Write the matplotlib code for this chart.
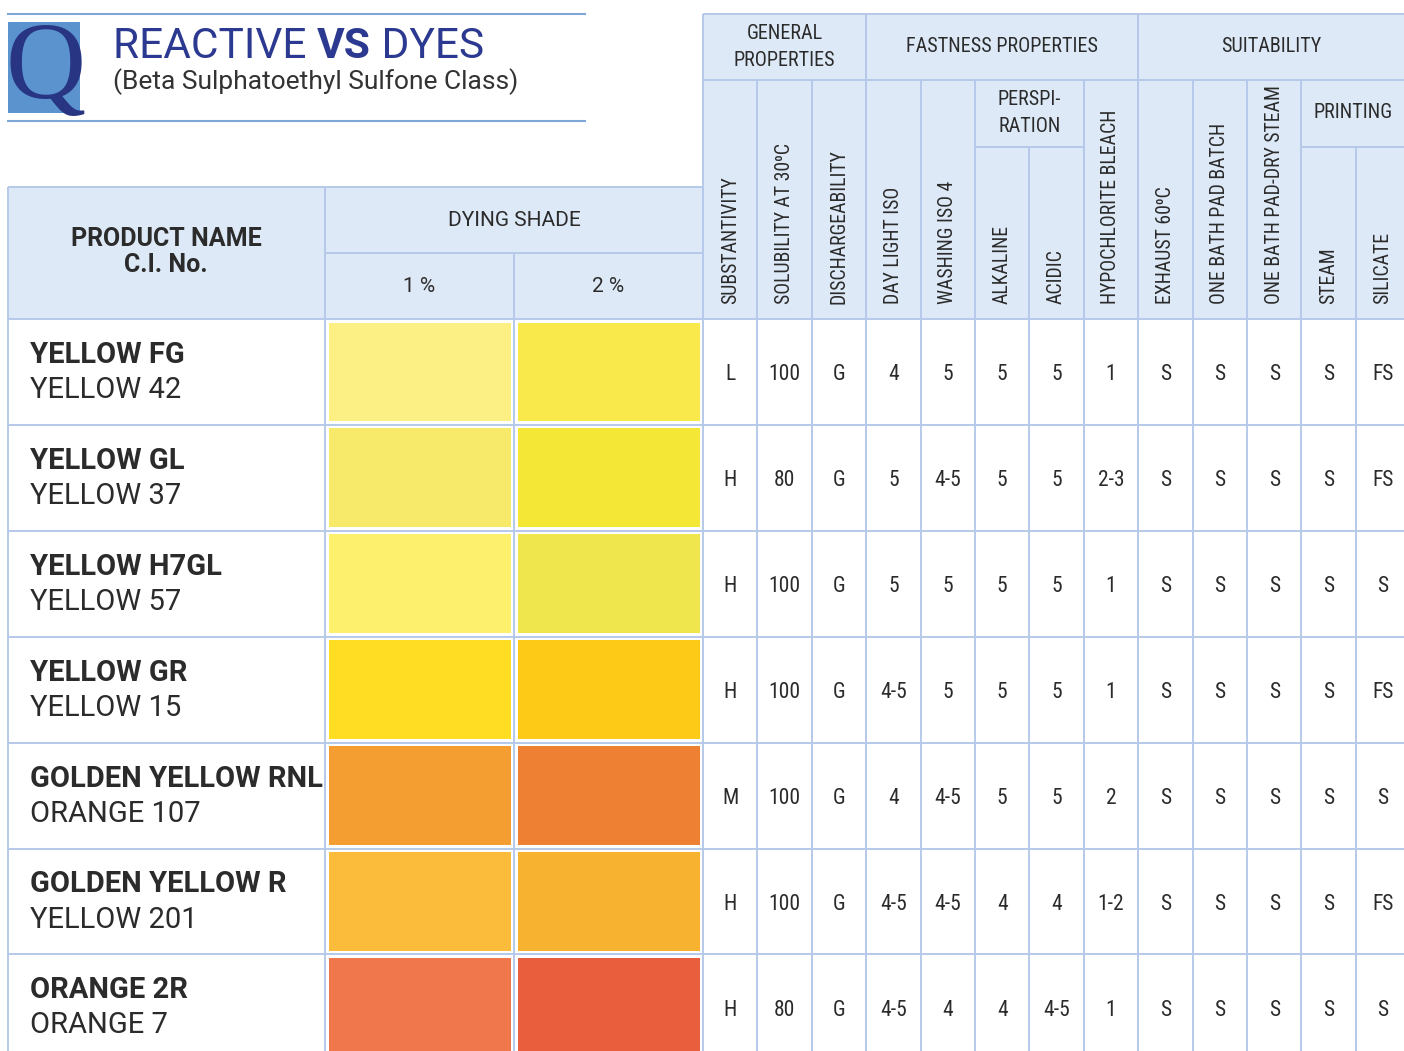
import matplotlib
matplotlib.use("Agg")
import matplotlib.pyplot as plt
from matplotlib.patches import Rectangle

# ---------------- data ----------------
products = ["YELLOW FG", "YELLOW GL", "YELLOW H7GL", "YELLOW GR",
            "GOLDEN YELLOW RNL", "GOLDEN YELLOW R", "ORANGE 2R"]
ci_numbers = ["YELLOW 42", "YELLOW 37", "YELLOW 57", "YELLOW 15",
              "ORANGE 107", "YELLOW 201", "ORANGE 7"]
shade_1pct = ["#fcef84", "#f7e96a", "#fdf06c", "#fedd22",
              "#f49d30", "#fbbc3c", "#ef774b"]
shade_2pct = ["#f9e94a", "#f5e736", "#efe64e", "#feca18",
              "#ed8032", "#f7b230", "#e95e3d"]

substantivity = ["L", "H", "H", "H", "M", "H", "H"]
solubility = ["100", "80", "100", "100", "100", "100", "80"]
dischargeability = ["G", "G", "G", "G", "G", "G", "G"]
day_light = ["4", "5", "5", "4-5", "4", "4-5", "4-5"]
washing = ["5", "4-5", "5", "5", "4-5", "4-5", "4"]
alkaline = ["5", "5", "5", "5", "5", "4", "4"]
acidic = ["5", "5", "5", "5", "5", "4", "4-5"]
hypochlorite = ["1", "2-3", "1", "1", "2", "1-2", "1"]
exhaust = ["S", "S", "S", "S", "S", "S", "S"]
pad_batch = ["S", "S", "S", "S", "S", "S", "S"]
pad_dry_steam = ["S", "S", "S", "S", "S", "S", "S"]
steam = ["S", "S", "S", "S", "S", "S", "S"]
silicate = ["FS", "FS", "S", "FS", "S", "FS", "S"]

column_labels = ["SUBSTANTIVITY", "SOLUBILITY AT 30\u2070C", "DISCHARGEABILITY",
                 "DAY LIGHT ISO", "WASHING ISO 4", "ALKALINE", "ACIDIC",
                 "HYPOCHLORITE BLEACH", "EXHAUST 60\u2070C", "ONE BATH PAD BATCH",
                 "ONE BATH PAD-DRY STEAM", "STEAM", "SILICATE"]
columns = [substantivity, solubility, dischargeability, day_light, washing,
           alkaline, acidic, hypochlorite, exhaust, pad_batch, pad_dry_steam,
           steam, silicate]
group_labels = ["GENERAL\nPROPERTIES", "FASTNESS PROPERTIES", "SUITABILITY"]
group_spans = [(0, 3), (3, 8), (8, 13)]
subgroup_labels = ["PERSPI-\nRATION", "PRINTING"]
subgroup_spans = [(5, 7), (11, 13)]

# ---------------- fonts ----------------
COND = ["Roboto Condensed", "DejaVu Sans"]
MAIN = ["Roboto", "DejaVu Sans"]

# ---------------- figure ----------------
W, H = 1404, 1051
fig = plt.figure(figsize=(W / 100, H / 100), dpi=100)
ax = fig.add_axes([0, 0, 1, 1])
ax.set_xlim(0, W)
ax.set_ylim(H, 0)
ax.axis("off")

GRID = "#b5c9ea"
HEAD = "#dde9f6"
TXT = "#2b2b2b"
NAVY = "#2b3990"
LW = 1.4

# geometry
lx = [8, 325, 514, 703]
rx0, cw = 703, 54.4
rx = [rx0 + i * cw for i in range(14)]
row_top, rh = 319, 105.9
ry = [row_top + i * rh for i in range(len(products) + 1)]

# header backgrounds
ax.add_patch(Rectangle((8, 187), 703 - 8, 319 - 187, fc=HEAD, ec="none", zorder=0))
ax.add_patch(Rectangle((703, 14), W - 703, 319 - 14, fc=HEAD, ec="none", zorder=0))

# title block
ax.plot([8, 585], [14, 14], color="#7ea6d8", lw=1.5)
ax.plot([8, 585], [121, 121], color="#7ea6d8", lw=1.5)
ax.add_patch(Rectangle((8, 22), 72, 91, fc="#5b93cf", ec="none", zorder=1))
ax.text(6, 98, "Q", fontsize=80, family=["Liberation Serif", "DejaVu Serif"],
        color="#283583", ha="left", va="baseline", zorder=2)
t1 = ax.text(113, 58, "REACTIVE ", fontsize=30.5, family=MAIN, color=NAVY,
             ha="left", va="baseline")
fig.canvas.draw()
r = fig.canvas.get_renderer()
bb = t1.get_window_extent(r)
x2 = ax.transData.inverted().transform((bb.x1, bb.y0))[0]
t2 = ax.text(x2, 58, "VS", fontsize=30.5, family=MAIN, color=NAVY, weight="bold",
             ha="left", va="baseline")
bb = t2.get_window_extent(r)
x3 = ax.transData.inverted().transform((bb.x1, bb.y0))[0]
ax.text(x3, 58, " DYES", fontsize=30.5, family=MAIN, color=NAVY,
        ha="left", va="baseline")
ax.text(113, 89, "(Beta Sulphatoethyl Sulfone Class)", fontsize=19, family=MAIN,
        color="#333333", ha="left", va="baseline")

# left header texts
ax.text(166, 252, "PRODUCT NAME\nC.I. No.", fontsize=18, family=MAIN,
        weight="bold", color=TXT, ha="center", va="center", linespacing=1.15)
ax.text(514, 220, "DYING SHADE", fontsize=15, family=MAIN, color=TXT,
        ha="center", va="center")
ax.text((lx[1] + lx[2]) / 2, 287, "1 %", fontsize=15, family=MAIN, color=TXT,
        ha="center", va="center")
ax.text((lx[2] + lx[3]) / 2, 287, "2 %", fontsize=15, family=MAIN, color=TXT,
        ha="center", va="center")

# right header texts
for lab, (a, b) in zip(group_labels, group_spans):
    xe = min(rx[b], W)
    ax.text((rx[a] + xe) / 2, 47, lab, fontsize=14.5, family=COND, color=TXT,
            ha="center", va="center", linespacing=1.5)
for lab, (a, b) in zip(subgroup_labels, subgroup_spans):
    ax.text((rx[a] + rx[b]) / 2 - (3 if b == 13 else 0), 113, lab, fontsize=14.5,
            family=COND, color=TXT, ha="center", va="center", linespacing=1.5)
for i, lab in enumerate(column_labels):
    ax.text((rx[i] + rx[i + 1]) / 2, 304, lab, fontsize=14.2, family=COND,
            color=TXT, rotation=90, ha="center", va="bottom")

# rows
for k in range(len(products)):
    top, bot = ry[k], ry[k + 1]
    ax.text(30, top + 36, products[k], fontsize=21, family=MAIN, weight="bold",
            color=TXT, ha="left", va="center")
    ax.text(30, top + 71, ci_numbers[k], fontsize=21, family=MAIN,
            color=TXT, ha="left", va="center")
    ax.add_patch(Rectangle((lx[1] + 4, top + 3.5), lx[2] - lx[1] - 7, rh - 7,
                           fc=shade_1pct[k], ec="none", zorder=1))
    ax.add_patch(Rectangle((lx[2] + 4, top + 3.5), lx[3] - lx[2] - 7, rh - 7,
                           fc=shade_2pct[k], ec="none", zorder=1))
    yc = (top + bot) / 2 + 3
    for i, col in enumerate(columns):
        ax.text((rx[i] + rx[i + 1]) / 2, yc, col[k], fontsize=15.5,
                family=COND, color=TXT, ha="center", va="center")

# grid lines
def hl(y, x0, x1):
    ax.plot([x0, x1], [y, y], color=GRID, lw=LW, zorder=3, solid_capstyle="butt")

def vl(x, y0, y1):
    ax.plot([x, x], [y0, y1], color=GRID, lw=LW, zorder=3, solid_capstyle="butt")

hl(187, 8, 703)
hl(253, 325, 703)
hl(14, 703, W)
hl(80, 703, W)
hl(147, rx[5], rx[7])
hl(147, rx[11], W)
for y in ry[:-1]:
    hl(y, 8, W)
vl(8, 187, H)
vl(325, 187, H)
vl(514, 253, H)
vl(703, 14, H)
for i in range(1, 13):
    if i in (3, 8):
        vl(rx[i], 14, H)
    elif i in (6, 12):
        vl(rx[i], 147, H)
    else:
        vl(rx[i], 80, H)

fig.savefig("out.png", dpi=100)
